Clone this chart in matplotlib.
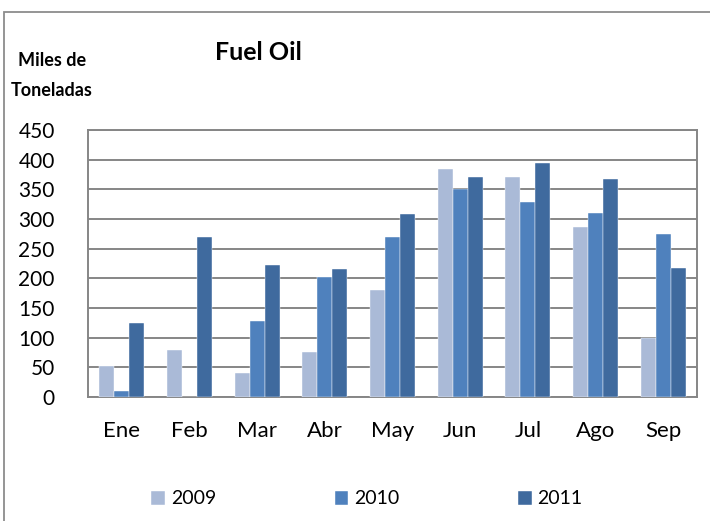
import numpy as np
import matplotlib.pyplot as plt
from matplotlib.patches import Rectangle

# Datos: miles de toneladas de fuel oil por mes
meses = ["Ene", "Feb", "Mar", "Abr", "May", "Jun", "Jul", "Ago", "Sep"]
anios = ["2009", "2010", "2011"]
v2009 = [52, 79, 40, 76, 181, 385, 371, 286, 99]
v2010 = [10, 0, 128, 203, 270, 350, 328, 310, 275]
v2011 = [124, 269, 222, 215, 308, 370, 394, 367, 217]
colores = ["#AABAD7", "#4F81BD", "#3F6A9E"]

plt.rcParams['font.family'] = ['Lato', 'DejaVu Sans']

fig = plt.figure(figsize=(7.1, 5.21), dpi=100)

# marco exterior del gráfico
fig.patches.append(Rectangle((4 / 710, -0.1), 1.2, 1.1 - 12 / 521,
                             transform=fig.transFigure, fill=False,
                             edgecolor="#8c8c8c", linewidth=1.3))

ax = fig.add_axes([88 / 710, 1 - 397 / 521, 609 / 710, 267 / 521])

x = np.arange(len(meses))
w = 0.222
for i, (serie, col) in enumerate(zip([v2009, v2010, v2011], colores)):
    ax.bar(x + (i - 1) * w, serie, width=w, color=col, label=anios[i],
           edgecolor="white", linewidth=0.3, zorder=3)

ax.set_xlim(-0.5, len(meses) - 0.5)
ax.set_ylim(0, 450)
ax.set_yticks(range(0, 451, 50))
ax.set_xticks(x)
ax.set_xticklabels(meses)
ax.tick_params(axis="y", length=0, labelsize=15, pad=24)
ax.tick_params(axis="x", length=0, labelsize=16, pad=17)
for lbl in ax.get_yticklabels():
    lbl.set_horizontalalignment("right")

ax.grid(axis="y", color="#868686", linewidth=1.4, zorder=0)
for s in ax.spines.values():
    s.set_color("#868686")
    s.set_linewidth(1.4)

fig.text(258 / 710, 1 - 53 / 521, "Fuel Oil", ha="center", va="center",
         fontsize=18, fontweight="bold")
fig.text(52 / 710, 1 - 61 / 521, "Miles de", ha="center", va="center",
         fontsize=13, fontweight="bold")
fig.text(52 / 710, 1 - 91 / 521, "Toneladas", ha="center", va="center",
         fontsize=13, fontweight="bold")

# leyenda inferior
leg = fig.legend(loc="center", bbox_to_anchor=(0.517, 1 - 499 / 521), ncol=3,
                 frameon=False, fontsize=14, handlelength=0.7,
                 handleheight=0.7, handletextpad=0.3, columnspacing=6.1)

fig.savefig("out.png", dpi=100)
